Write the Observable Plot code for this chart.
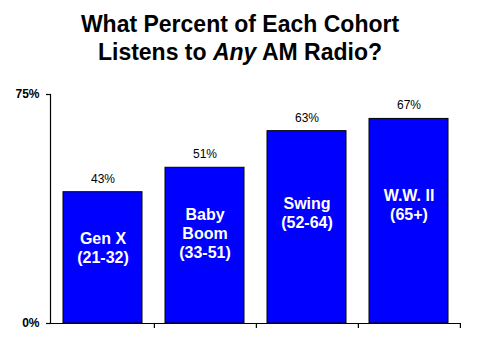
<!DOCTYPE html>
<html>
<head>
<meta charset="utf-8">
<script src="https://cdn.jsdelivr.net/npm/d3@7"></script>
<script src="https://cdn.jsdelivr.net/npm/@observablehq/plot@0.6"></script>
<style>
  html, body { margin: 0; padding: 0; background: #fff; }
  #wrap { width: 480px; height: 360px; overflow: hidden; font-family: "Liberation Sans", Arial, sans-serif; }
  #title { height: 70px; padding-top: 10px; text-align: center; font-size: 23px; font-weight: bold; line-height: 28px; color: #000; }
  svg { display: block; }
</style>
</head>
<body>
<div id="wrap">
  <div id="title">What Percent of Each Cohort<br>Listens to <i>Any</i> AM Radio?</div>
  <div id="chart"></div>
</div>
<script>
const cohorts = ["Gen X", "Baby Boom", "Swing", "W.W. II"];
const barLabels = ["Gen X\n(21-32)", "Baby\nBoom\n(33-51)", "Swing\n(52-64)", "W.W. II\n(65+)"];
const values = [43, 51, 63, 67];
const yTicks = [0, 75];

const data = cohorts.map((c, i) => ({cohort: c, label: barLabels[i], value: values[i]}));

const W = 480, H = 280, mL = 50, mR = 19, mT = 14, mB = 37;
const step = (W - mL - mR) / cohorts.length;
const pxPerUnit = (H - mT - mB) / 75;

const chart = Plot.plot({
  width: W,
  height: H,
  marginLeft: mL,
  marginRight: mR,
  marginTop: mT,
  marginBottom: mB,
  style: {fontFamily: '"Liberation Sans", Arial, sans-serif', background: "#fff", color: "#000"},
  x: {domain: cohorts, paddingInner: 0.23, paddingOuter: 0.115, axis: null},
  y: {domain: [0, 75], axis: null},
  marks: [
    Plot.barY(data, {x: "cohort", y: "value", fill: "#0000ff", stroke: "#000", strokeWidth: 1}),
    Plot.ruleY([0], {stroke: "#000", strokeWidth: 1.2}),
    Plot.frame({anchor: "left", stroke: "#000", strokeWidth: 1.2}),
    Plot.axisY({ticks: yTicks, tickFormat: d => d + "%", tickSize: 4, tickPadding: 7, label: null,
      fontSize: 12, fontWeight: "bold", stroke: "#000", strokeWidth: 1.2, strokeOpacity: 1}),
    Plot.ruleX(cohorts, {x: d => d, dx: step / 2, y1: 0, y2: -5 / pxPerUnit, stroke: "#000", strokeWidth: 1.2}),
    Plot.text(data, {x: "cohort", y: "value", text: d => d.value + "%", dy: -9.5, lineAnchor: "bottom",
      fontSize: 12, fill: "#000"}),
    Plot.text(data, {x: "cohort", y: d => d.value * 0.58, text: "label", lineAnchor: "middle", lineHeight: 1.19,
      fontSize: 16, fontWeight: "bold", fill: "#fff"})
  ]
});
document.getElementById("chart").appendChild(chart);
</script>
</body>
</html>
